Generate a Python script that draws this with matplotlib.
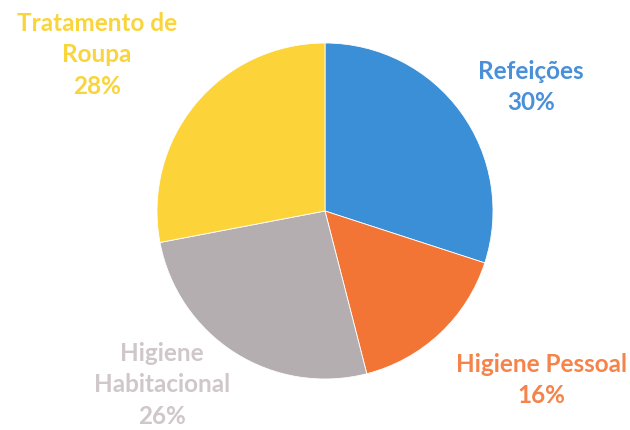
import matplotlib.pyplot as plt

categorias = ['Refeições', 'Higiene Pessoal', 'Higiene Habitacional', 'Tratamento de Roupa']
valores = [30, 16, 26, 28]
cores = ['#3a8fd6', '#f37535', '#b5aeb1', '#fdd33a']
cores_texto = ['#4a90d8', '#f5834a', '#cfc7cb', '#f9d43a']
rotulos = ['Refeições', 'Higiene Pessoal', 'Higiene\nHabitacional', 'Tratamento de\nRoupa']
# posição dos rótulos (em pixels, y a partir de baixo)
pos_rotulos = [(531, 343), (541, 50), (162, 45), (97, 375)]

fig = plt.figure(figsize=(6.3, 4.3), dpi=100)
ax = fig.add_axes([0, 0, 1, 1])
ax.pie(valores, colors=cores, startangle=90, counterclock=False,
       center=(325, 219), radius=168,
       wedgeprops={'linewidth': 0.6, 'edgecolor': 'white'})
ax.set_xlim(0, 630)
ax.set_ylim(0, 430)
ax.set_aspect('equal')
ax.axis('off')

for i in range(len(valores)):
    txt = rotulos[i] + '\n' + str(valores[i]) + '%'
    ax.text(pos_rotulos[i][0], pos_rotulos[i][1], txt, ha='center', va='center',
            color=cores_texto[i], fontsize=17.5, fontweight='bold', family='Lato',
            linespacing=1.45)

plt.savefig('out.png', dpi=100)
